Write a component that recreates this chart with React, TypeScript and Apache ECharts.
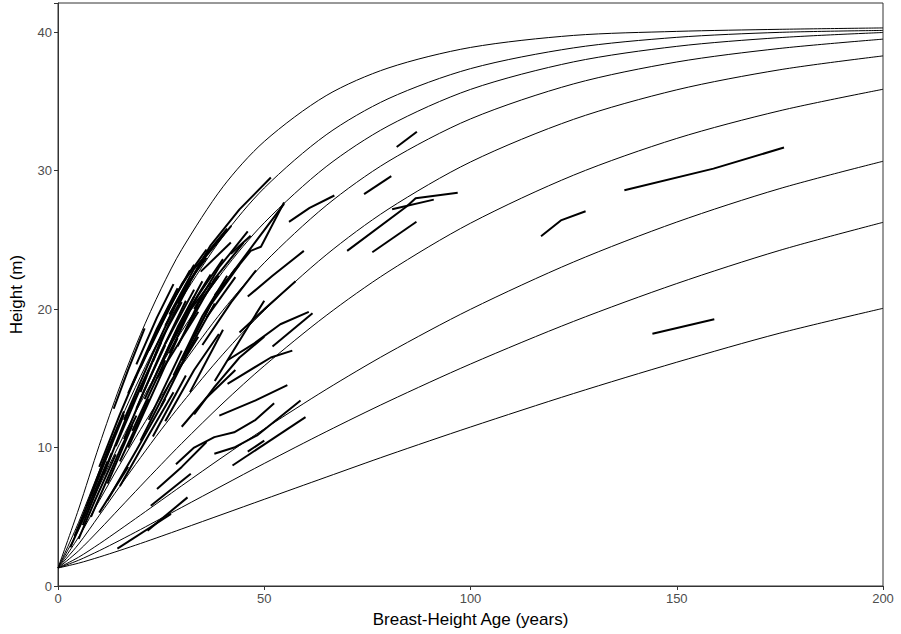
import React, { useEffect, useRef } from "react";
import * as echarts from "echarts";

// Ages (breast-height years) at which the site curves are sampled
const CURVE_AGES = [0, 5, 10, 15, 20, 25, 30, 40, 50, 65, 80, 100, 125, 150, 175, 200];

// Site-index height curves (m), best site first
const CURVE_1 = [1.3, 5.56, 10.16, 14.41, 18.17, 21.46, 24.3, 28.83, 32.1, 35.41, 37.4, 38.89, 39.76, 40.05, 40.2, 40.3];
const CURVE_2 = [1.3, 4.6, 8.31, 11.87, 15.13, 18.1, 20.76, 25.24, 28.74, 32.58, 35.18, 37.36, 38.86, 39.62, 39.98, 40.12];
const CURVE_3 = [1.3, 4.06, 7.22, 10.31, 13.23, 15.93, 18.41, 22.71, 26.23, 30.28, 33.21, 35.86, 37.85, 38.97, 39.6, 39.97];
const CURVE_4 = [1.3, 3.54, 6.16, 8.78, 11.3, 13.68, 15.92, 19.92, 23.34, 27.47, 30.65, 33.73, 36.26, 37.84, 38.82, 39.49];
const CURVE_5 = [1.3, 3.03, 5.1, 7.2, 9.27, 11.28, 13.19, 16.74, 19.89, 23.91, 27.2, 30.62, 33.7, 35.83, 37.28, 38.28];
const CURVE_6 = [1.3, 2.54, 4.05, 5.63, 7.21, 8.77, 10.3, 13.21, 15.9, 19.53, 22.68, 26.2, 29.67, 32.32, 34.32, 35.87];
const CURVE_7 = [1.3, 2.08, 3.04, 4.07, 5.12, 6.18, 7.24, 9.33, 11.34, 14.19, 16.82, 19.98, 23.4, 26.28, 28.7, 30.67];
const CURVE_8 = [1.3, 1.86, 2.55, 3.3, 4.08, 4.88, 5.68, 7.27, 8.85, 11.14, 13.32, 16.03, 19.11, 21.84, 24.24, 26.26];
const CURVE_9 = [1.3, 1.65, 2.09, 2.57, 3.07, 3.59, 4.12, 5.19, 6.26, 7.86, 9.45, 11.48, 13.9, 16.16, 18.26, 20.05];

const CURVES = [CURVE_1, CURVE_2, CURVE_3, CURVE_4, CURVE_5, CURVE_6, CURVE_7, CURVE_8, CURVE_9];

// Measured tree height trajectories: [age, height] per remeasurement
const TREES: number[][][] = [
  [[3, 2.8], [7, 5.5], [12, 9.0]],
  [[4, 3.6], [10, 8.0]],
  [[5, 3.4], [9, 6.2], [14, 9.5]],
  [[6, 4.4], [13, 9.6]],
  [[7, 5.8], [12, 9.8], [16, 12.6]],
  [[8, 6.5], [13, 10.2]],
  [[8, 5.0], [15, 9.8], [19, 12.3]],
  [[9, 7.3], [16, 12.4]],
  [[10, 8.6], [15, 12.4], [19, 15.2]],
  [[11, 8.0], [17, 12.5], [22, 15.6]],
  [[12, 7.4], [18, 11.6]],
  [[13.5, 12.8], [17, 15.6], [21, 18.6]],
  [[14, 10.1], [20, 14.3], [25, 17.6]],
  [[15, 9.0], [22, 13.5]],
  [[16, 12.0], [23, 16.8], [28, 20.0]],
  [[16, 10.6], [21, 14.2], [26, 17.4]],
  [[17, 13.9], [24, 18.6], [29, 21.5]],
  [[17, 10.0], [24, 14.6], [29, 17.9]],
  [[18, 11.2], [26, 16.3]],
  [[18, 14.5], [22, 17.1], [27, 20.3]],
  [[19, 12.8], [25, 16.9], [31, 20.6]],
  [[19, 16.0], [24, 19.4], [28, 21.8]],
  [[20, 15.8], [26, 19.6], [32, 22.8]],
  [[20, 14.0], [25, 17.8], [30, 20.5]],
  [[21, 13.5], [28, 18.0], [33, 20.9]],
  [[22, 17.0], [28, 20.7], [33, 23.2]],
  [[22, 12.0], [30, 17.0]],
  [[23, 14.8], [29, 18.7], [35, 22.0]],
  [[23, 16.2], [27, 19.0], [32, 21.9]],
  [[24, 18.3], [30, 21.8], [36, 24.3]],
  [[24, 15.0], [29, 17.4], [34, 19.8]],
  [[25, 16.0], [31, 19.6], [37, 22.5]],
  [[25, 13.0], [32, 17.2], [38, 20.4]],
  [[26, 17.5], [33, 21.4]],
  [[26, 18.8], [31, 21.7], [36, 23.7]],
  [[27, 19.6], [33, 22.9], [39, 25.0]],
  [[27, 16.8], [32, 19.9], [37, 21.9]],
  [[28, 15.2], [35, 19.5], [41, 22.4]],
  [[28, 17.8], [34, 21.0], [40, 23.6]],
  [[29, 20.4], [35, 23.5], [42, 26.0]],
  [[29, 17.3], [34, 20.4], [39, 22.4]],
  [[30, 16.3], [37, 20.3], [44, 23.2]],
  [[31, 18.5], [38, 22.2], [45, 24.8]],
  [[31, 21.5], [36, 24.0], [41, 25.8]],
  [[32, 14.0], [40, 18.5]],
  [[33, 20.0], [39, 23.0], [46, 25.6]],
  [[33, 18.0], [38, 20.9], [43, 22.9]],
  [[20, 10.5], [27, 14.6], [34, 18.0]],
  [[23, 10.8], [31, 15.2]],
  [[15, 7.2], [22, 10.9], [28, 14.0]],
  [[12, 6.2], [19, 9.8], [26, 13.5]],
  [[10, 5.3], [17, 8.6]],
  [[26, 11.9], [33, 15.6], [39, 18.2]],
  [[35, 17.4], [42, 20.5], [48, 22.8]],
  [[36, 19.4], [43, 22.3]],
  [[38, 14.8], [45, 18.2], [50, 20.6]],
  [[30, 21.0], [37, 24.6], [44, 27.2], [51.6, 29.5]],
  [[38, 21.0], [46.7, 24.2], [49.2, 24.5], [54.8, 27.7]],
  [[42, 22.5], [48, 24.9], [54.8, 27.6]],
  [[34.6, 22.7], [41.9, 24.8]],
  [[41.9, 24.0], [46.7, 25.3]],
  [[46, 20.9], [52, 22.4], [59.6, 24.2]],
  [[44, 18.3], [50.4, 20.1], [57.6, 22.0]],
  [[41.1, 16.3], [47.5, 17.5], [53.9, 18.9], [60.8, 19.8]],
  [[52, 17.3], [61.7, 19.7]],
  [[41.1, 14.6], [51.6, 16.5], [56.8, 17.0]],
  [[39.1, 12.3], [47.9, 13.4], [55.6, 14.5]],
  [[28.6, 8.8], [33, 10.0], [37.9, 10.75], [42.7, 11.1], [47.9, 12.0], [52.4, 13.2]],
  [[37.9, 9.55], [42.7, 10.0], [48.4, 10.9], [58.8, 13.4]],
  [[42.3, 8.7], [60, 12.2]],
  [[46, 9.7], [50, 10.5]],
  [[21.7, 4.0], [31.4, 6.4]],
  [[22.5, 5.8], [32.2, 8.1]],
  [[14.4, 2.7], [27.4, 5.2]],
  [[24, 7.0], [30, 8.6], [36, 10.4]],
  [[30, 11.5], [36, 13.6], [43, 15.6]],
  [[33, 12.4], [38, 14.4], [44, 16.5], [50, 18.0]],
  [[56, 26.3], [61, 27.3], [67, 28.2]],
  [[82.1, 31.7], [87, 32.8]],
  [[74.2, 28.3], [80.8, 29.6]],
  [[70.1, 24.2], [84.5, 27.4], [86.7, 28.0], [96.9, 28.4]],
  [[81, 27.2], [91.1, 27.9]],
  [[76.2, 24.1], [86.9, 26.3]],
  [[117.1, 25.25], [121.9, 26.4], [127.9, 27.06]],
  [[137.3, 28.58], [158.9, 30.14], [176, 31.66]],
  [[144.1, 18.22], [159.1, 19.26]],
];

const X_TICKS = [0, 50, 100, 150, 200];
const Y_TICKS = [0, 10, 20, 30, 40];

const FONT = "'Liberation Sans', Arial, Helvetica, sans-serif";

export default function App() {
  const ref = useRef<HTMLDivElement>(null);

  useEffect(() => {
    document.body.style.margin = "0";
    if (!ref.current) return;
    const chart = echarts.init(ref.current, null, { renderer: "svg" });

    const curveSeries = CURVES.map((vals, i) => ({
      name: `site-${i + 1}`,
      type: "line",
      data: CURVE_AGES.map((a, j) => [a, vals[j]]),
      smooth: 0.3,
      showSymbol: false,
      symbol: "none",
      lineStyle: { color: "#000", width: 1 },
      silent: true,
      z: 2,
    }));

    const treeSeries = TREES.map((pts, i) => ({
      name: `tree-${i + 1}`,
      type: "line",
      data: pts,
      showSymbol: false,
      symbol: "none",
      lineStyle: { color: "#000", width: 2 },
      silent: true,
      z: 3,
    }));

    chart.setOption({
      animation: false,
      backgroundColor: "#fff",
      textStyle: { fontFamily: FONT },
      grid: {
        left: 57,
        right: 18,
        top: 3,
        bottom: 48,
        show: true,
        borderColor: "#333",
        borderWidth: 1,
        containLabel: false,
      },
      xAxis: {
        type: "value",
        min: 0,
        max: 200,
        interval: 50,
        name: "Breast-Height Age (years)",
        nameLocation: "middle",
        nameGap: 25,
        nameTextStyle: { fontSize: 17, color: "#000", fontFamily: FONT },
        axisLine: { show: true, onZero: false, lineStyle: { color: "#333", width: 1 } },
        axisTick: { show: true, length: 4, lineStyle: { color: "#333" } },
        axisLabel: {
          color: "#4d4d4d",
          fontSize: 13,
          margin: 6,
          fontFamily: FONT,
          formatter: (v: number) => (X_TICKS.includes(v) ? String(v) : ""),
        },
        splitLine: { show: false },
      },
      yAxis: {
        type: "value",
        min: 0,
        max: 42.1,
        interval: 10,
        name: "Height (m)",
        nameLocation: "middle",
        nameGap: 33,
        nameRotate: 90,
        nameTextStyle: { fontSize: 17, color: "#000", fontFamily: FONT },
        axisLine: { show: true, onZero: false, lineStyle: { color: "#333", width: 1 } },
        axisTick: { show: true, length: 4, lineStyle: { color: "#333" } },
        axisLabel: {
          color: "#4d4d4d",
          fontSize: 13,
          margin: 6,
          fontFamily: FONT,
          formatter: (v: number) => (Y_TICKS.includes(v) ? String(v) : ""),
        },
        splitLine: { show: false },
      },
      series: [...curveSeries, ...treeSeries],
    });

    return () => chart.dispose();
  }, []);

  return <div ref={ref} style={{ width: 901, height: 634 }} />;
}
